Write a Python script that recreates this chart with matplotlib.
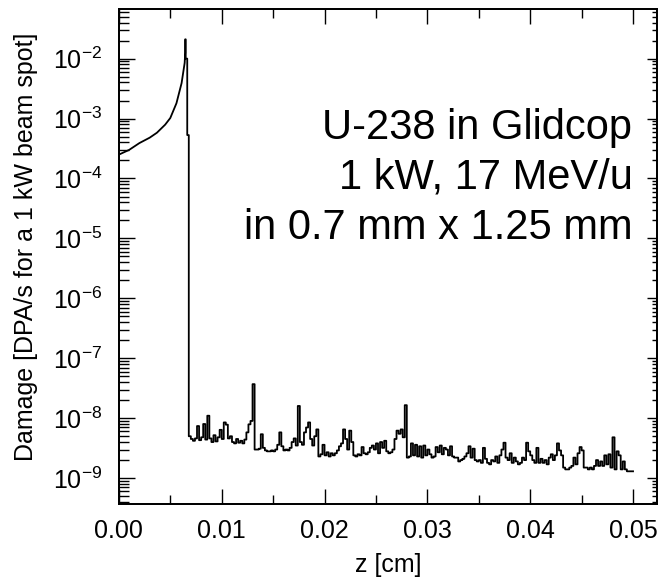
#!/usr/bin/env python3
"""Damage rate (DPA/s) along depth for U-238 on Glidcop, ROOT-like style."""

import matplotlib
matplotlib.use('Agg')
import matplotlib.pyplot as plt
import numpy as np
from matplotlib.ticker import MultipleLocator, LogLocator, FormatStrFormatter, NullFormatter

plt.rcParams.update({
    'font.family': ['Liberation Sans', 'DejaVu Sans'],
    'mathtext.fontset': 'custom',
    'mathtext.rm': 'Liberation Sans',
    'mathtext.it': 'Liberation Sans',
    'mathtext.default': 'regular',
    'font.size': 18,
})

# Bragg-like rise before the stopping point (z in cm, damage in DPA/s)
head_z = [0.0, 0.001, 0.002, 0.003, 0.0037, 0.0045, 0.005, 0.0056, 0.0061, 0.0064, 0.00645]
head_dpa = [2.5e-4, 3.0e-4, 3.9e-4, 4.8e-4, 5.8e-4, 7.9e-4, 1.02e-3, 1.8e-3, 3.9e-3, 8.5e-3, 1.25e-2]

# peak bins right at the end of range
peak_edges = [0.00645, 0.0065, 0.00665]
peak_dpa = [2.1e-2, 1.0e-2, 5.3e-4]

# tail histogram, 0.0068 -> 0.0500 cm in 0.0002 cm bins, values in units of 1e-9 DPA/s
tail_start, tail_stop = 0.0068, 0.0500
tail_dpa_1e9 = [
    5.0, 4.5, 4.2, 4.6, 7.4, 4.3, 4.8, 8.0, 4.4, 11.0,
    4.6, 4.0, 5.2, 4.1, 4.8, 6.4, 4.5, 8.5, 7.8, 4.6,
    5.0, 4.0, 3.8, 4.5, 3.9, 4.2, 3.8, 4.4, 5.8, 7.9,
    9.0, 37.0, 3.0, 3.0, 3.1, 5.4, 3.2, 2.9, 2.8, 2.8,
    2.9, 2.8, 3.0, 3.6, 5.8, 3.4, 2.9, 3.0, 2.9, 3.2,
    4.0, 4.6, 3.5, 16.0, 4.0, 3.6, 5.8, 7.0, 8.5, 4.5,
    3.5, 5.0, 6.5, 2.3, 2.5, 3.6, 2.4, 2.7, 2.3, 2.6,
    2.4, 2.6, 2.9, 3.4, 3.8, 6.5, 4.5, 3.0, 6.2, 4.0,
    2.4, 2.3, 2.5, 2.4, 3.3, 2.6, 2.5, 2.7, 3.2, 3.5,
    3.0, 3.8, 2.6, 4.0, 3.2, 4.2, 2.8, 2.6, 2.7, 3.0,
    4.5, 6.2, 5.5, 6.5, 4.8, 16.5, 2.2, 2.3, 3.8, 2.4,
    3.6, 2.3, 3.4, 2.2, 3.5, 2.4, 3.0, 2.5, 2.2, 2.3,
    3.3, 2.7, 3.5, 2.5, 3.2, 3.0, 2.4, 3.4, 2.3, 2.2,
    2.2, 1.9, 2.0, 2.1, 2.3, 2.6, 3.4, 2.2, 3.1, 2.0,
    1.9, 2.0, 1.8, 3.2, 2.1, 1.8, 1.7, 2.0, 1.9, 2.3,
    1.8, 2.4, 3.0, 3.9, 2.2, 2.0, 2.6, 1.8, 2.2, 1.9,
    1.7, 1.8, 2.2, 2.0, 3.9, 2.8, 2.4, 2.0, 1.8, 3.2,
    1.8, 2.1, 1.8, 2.0, 1.7, 2.2, 2.5, 2.0, 2.4, 3.8,
    2.9, 2.4, 1.5, 1.4, 1.4, 1.5, 1.6, 2.2, 1.7, 2.6,
    3.3, 2.9, 1.5, 1.5, 1.4, 1.5, 1.4, 1.6, 2.0, 1.6,
    1.9, 1.6, 2.4, 1.7, 2.5, 1.5, 4.8, 1.4, 2.8, 2.4,
    1.4, 1.9, 1.4, 1.3, 1.3, 1.3,
]

label_lines = ['U-238 in Glidcop', '1 kW, 17 MeV/u', 'in 0.7 mm x 1.25 mm']

X_LIM = (0.0, 0.0523)
Y_LIM = (3.7e-10, 6.8e-2)

# build one step path: smooth head, then histogram steps
tail_edges = np.linspace(tail_start, tail_stop, len(tail_dpa_1e9) + 1)
edges = np.concatenate([peak_edges, tail_edges])
values = np.concatenate([peak_dpa, np.array(tail_dpa_1e9) * 1e-9])
step_x = np.repeat(edges, 2)[1:-1]
step_y = np.repeat(values, 2)
x_all = np.concatenate([head_z, step_x])
y_all = np.concatenate([head_dpa, step_y])

fig = plt.figure(figsize=(6.64, 5.82), dpi=100)
ax = fig.add_axes([0.179, 0.134, 0.810, 0.851])

ax.plot(x_all, y_all, color='black', linewidth=1.3)

ax.set_yscale('log')
ax.set_xlim(X_LIM)
ax.set_ylim(Y_LIM)

ax.xaxis.set_major_locator(MultipleLocator(0.01))
ax.xaxis.set_minor_locator(MultipleLocator(0.005))
ax.xaxis.set_major_formatter(FormatStrFormatter('%.2f'))
ax.yaxis.set_major_locator(LogLocator(base=10, numticks=20))
ax.yaxis.set_minor_locator(LogLocator(base=10, subs=np.arange(2, 10), numticks=20))
ax.yaxis.set_minor_formatter(NullFormatter())

ax.tick_params(axis='x', which='major', direction='in', length=11, width=1.0,
               top=True, labelsize=18, pad=11)
ax.tick_params(axis='x', which='minor', direction='in', length=6.5, width=1.0, top=True)
ax.tick_params(axis='y', which='major', direction='in', length=11.5, width=1.0,
               right=False, labelsize=18, pad=12)
ax.tick_params(axis='y', which='minor', direction='in', length=7, width=1.0, right=False)

# right axis carries shorter ticks, as in the original
ax_r = ax.twinx()
ax_r.set_yscale('log')
ax_r.set_ylim(Y_LIM)
ax_r.yaxis.set_major_locator(LogLocator(base=10, numticks=20))
ax_r.yaxis.set_minor_locator(LogLocator(base=10, subs=np.arange(2, 10), numticks=20))
ax_r.tick_params(axis='y', which='major', direction='in', length=7, width=1.0, labelright=False)
ax_r.tick_params(axis='y', which='minor', direction='in', length=3.5, width=1.0, labelright=False)

for a in (ax, ax_r):
    for sp in a.spines.values():
        sp.set_linewidth(1.3)

ax.set_xlabel('z [cm]', fontsize=18)
ax.set_ylabel('Damage [DPA/s for a 1 kW beam spot]', fontsize=18)
ax.xaxis.set_label_coords(0.5, -0.098)
ax.yaxis.set_label_coords(-0.15, 0.52)

line_y = [0.760, 0.659, 0.558]
for txt, yy in zip(label_lines, line_y):
    ax.text(0.955, yy, txt, transform=ax.transAxes, ha='right', va='center', fontsize=30)

fig.savefig('out.png', dpi=100)
